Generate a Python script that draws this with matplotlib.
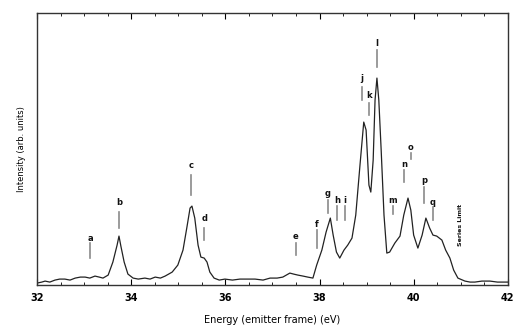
import numpy as np
import matplotlib.pyplot as plt
from matplotlib.ticker import MultipleLocator

# Spectrum (energy in eV, intensity in arbitrary units)
energy = [32.00, 32.10, 32.17, 32.27, 32.38, 32.48, 32.59, 32.70, 32.81, 32.92,
          33.02, 33.12, 33.23, 33.32, 33.40, 33.51, 33.61, 33.70, 33.74, 33.78,
          33.85, 33.93, 34.04, 34.15, 34.29, 34.40, 34.51, 34.62, 34.72, 34.87,
          34.99, 35.10, 35.18, 35.25, 35.29, 35.35, 35.42, 35.48, 35.55, 35.61,
          35.67, 35.76, 35.87, 35.99, 36.15, 36.31, 36.47, 36.63, 36.80, 36.95,
          37.10, 37.22, 37.37, 37.45, 37.54, 37.65, 37.75, 37.86, 37.94, 38.05,
          38.14, 38.23, 38.29, 38.36, 38.43, 38.52, 38.60, 38.69, 38.77, 38.86,
          38.94, 38.99, 39.05, 39.09, 39.14, 39.18, 39.22, 39.26, 39.31, 39.37,
          39.43, 39.49, 39.60, 39.71, 39.79, 39.88, 39.94, 40.00, 40.09, 40.18,
          40.26, 40.34, 40.41, 40.49, 40.60, 40.68, 40.77, 40.85, 40.94, 41.09,
          41.20, 41.30, 41.45, 41.62, 41.78, 41.94, 42.00]
intensity = [2, 3, 4, 3, 5, 6, 6, 5, 7, 8,
             8, 7, 9, 8, 7, 10, 23, 40, 49, 39,
             23, 11, 7, 6, 7, 6, 8, 7, 9, 13,
             20, 35, 57, 77, 79, 67, 40, 28, 27, 23,
             13, 7, 5, 6, 5, 6, 6, 6, 5, 7,
             7, 8, 12, 11, 10, 9, 8, 7, 20, 35,
             53, 67, 50, 33, 27, 35, 40, 47, 70, 120,
             163, 155, 100, 93, 125, 185, 207, 185, 135, 70,
             32, 33, 42, 49, 70, 87, 75, 50, 37, 50,
             67, 57, 50, 49, 45, 35, 27, 15, 7, 4,
             3, 3, 4, 4, 3, 3, 3]

# Peak labels: letter, energy, label height, bar top, bar bottom
peak_names = ['a', 'b', 'c', 'd', 'e', 'f', 'g', 'h', 'i',
              'j', 'k', 'l', 'm', 'n', 'o', 'p', 'q']
peak_energy = [33.13, 33.74, 35.27, 35.55, 37.50, 37.94, 38.18, 38.37, 38.54,
               38.90, 39.05, 39.22, 39.56, 39.79, 39.94, 40.22, 40.41]
label_height = [47, 83, 120, 67, 49, 61, 92, 85, 85,
                207, 190, 242, 85, 121, 138, 105, 83]
bar_top = [42, 73, 110, 57, 42, 55, 85, 79, 79,
           198, 182, 235, 79, 115, 132, 98, 78]
bar_bottom = [27, 57, 90, 45, 30, 37, 72, 65, 65,
              185, 170, 218, 71, 103, 126, 82, 65]

series_limit = 41.0

fig = plt.figure(figsize=(5.15, 3.35), dpi=100)
ax = fig.add_axes([0.072, 0.149, 0.914, 0.812])

ax.plot(energy, intensity, color='#222222', lw=0.9)

for name, e, h, top, bot in zip(peak_names, peak_energy, label_height,
                                bar_top, bar_bottom):
    ax.text(e, h, name, ha='center', va='center', fontsize=6,
            fontweight='bold', color='#111111')
    ax.plot([e, e], [bot, top], color='#8a8a8a', lw=1.2)

ax.text(series_limit, 60, 'Series Limit', rotation=90, ha='center',
        va='center', fontsize=4.5, fontweight='bold', color='#111111')

ax.set_xlim(32, 42)
ax.set_ylim(0, 272)
ax.xaxis.set_major_locator(MultipleLocator(2))
ax.xaxis.set_minor_locator(MultipleLocator(0.5))
ax.set_yticks([])
ax.tick_params(axis='x', which='both', direction='in', top=True,
               labelsize=7, pad=6)
ax.tick_params(axis='x', which='major', length=4)
ax.tick_params(axis='x', which='minor', length=2)
for lab in ax.get_xticklabels():
    lab.set_fontweight('bold')
for sp in ax.spines.values():
    sp.set_linewidth(1.0)
    sp.set_color('#333333')

ax.set_xlabel('Energy (emitter frame) (eV)', fontsize=7, labelpad=8)
ax.set_ylabel('Intensity (arb. units)', fontsize=6, labelpad=8)

fig.savefig('out.png', dpi=100)
